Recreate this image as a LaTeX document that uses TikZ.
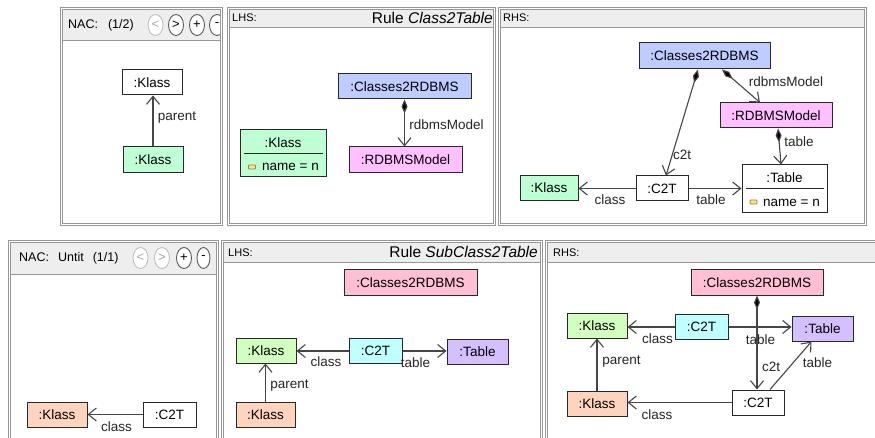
\documentclass[tikz,border=0pt]{standalone}
\usepackage{fontspec}
\setmainfont{Liberation Sans}
\usetikzlibrary{arrows.meta,shapes.geometric,calc}

\definecolor{panelgray}{RGB}{150,150,150}
\definecolor{headfill}{RGB}{238,238,238}
\definecolor{objline}{RGB}{40,40,40}
\definecolor{edgecol}{RGB}{70,70,70}
\definecolor{mint}{RGB}{190,255,212}
\definecolor{skyblue}{RGB}{190,204,255}
\definecolor{orchid}{RGB}{255,192,255}
\definecolor{rose}{RGB}{255,192,214}
\definecolor{leaf}{RGB}{210,255,192}
\definecolor{aqua}{RGB}{192,255,255}
\definecolor{lavender}{RGB}{212,192,255}
\definecolor{peach}{RGB}{255,212,190}
\definecolor{attrfill}{RGB}{245,228,150}
\definecolor{attrline}{RGB}{160,128,50}

\begin{document}
\begin{tikzpicture}[x=1pt,y=-1pt,
  obj/.style={draw=objline, line width=1pt, inner sep=0pt, minimum height=25pt,
    font=\fontsize{13.5}{16}\selectfont},
  txt/.style={inner sep=0pt, font=\fontsize{13.5}{16}\selectfont},
  lbl/.style={inner sep=0pt, font=\fontsize{13.5}{16}\selectfont, text=black!85},
  link/.style={draw=edgecol, line width=1.1pt, -{Straight Barb[length=8pt,width=13pt]}},
  comp/.style={draw=edgecol, line width=1.1pt,
    {Diamond[length=14pt,width=6pt,fill=black]}-{Straight Barb[length=8pt,width=13pt]}},
  sepline/.style={draw=objline, line width=1pt},
  attricon/.style={draw=attrline, fill=attrfill, line width=0.8pt, rounded corners=0.8pt,
    minimum width=7pt, minimum height=4pt, inner sep=0pt},
  panelline/.style={draw=panelgray, line width=1pt},
  hdr/.style={draw=panelgray, fill=headfill, line width=0.9pt},
  hdrsmall/.style={inner sep=0pt, anchor=west, font=\fontsize{11}{13}\selectfont},
  hdrnac/.style={inner sep=0pt, anchor=west, font=\fontsize{12.5}{15}\selectfont},
  hdrrule/.style={inner sep=0pt, anchor=east, font=\fontsize{15.5}{18}\selectfont},
  btnon/.style={ellipse, draw=black!65, fill=white, line width=0.9pt, inner sep=0pt,
    minimum width=15pt, minimum height=21pt, font=\fontsize{13}{15}\selectfont},
  btnoff/.style={btnon, draw=black!25, text=black!35},
]
\useasboundingbox (0,0) rectangle (875,438);
\clip (0,0) rectangle (875,438);
\fill[white] (0,0) rectangle (875,438);

% ---------------- upper row: rule Class2Table ----------------
% NAC panel
\draw[panelline] (60.5,7.5) rectangle (222.5,225.5);
\draw[panelline] (62.5,9.5) rectangle (220.5,223.5);
\draw[hdr] (62.5,9.5) rectangle (220.5,40.5);
\node[hdrnac] (nacA) at (68,25) {NAC:\hspace{10pt}(1/2)};
\begin{scope}
  \clip (62.5,9.5) rectangle (220,40.5);
  \node[btnoff] (bA1) at (155.5,25) {<};
  \node[btnon]  (bA2) at (176,25) {>};
  \node[btnon]  (bA3) at (197,25) {+};
  \node[btnon]  (bA4) at (217,25) {-};
\end{scope}

% LHS panel
\draw[panelline] (227.5,7.5) rectangle (495.5,225.5);
\draw[panelline] (229.5,9.5) rectangle (493.5,223.5);
\draw[hdr] (229.5,9.5) rectangle (493.5,27);
\node[hdrsmall] (lhsA) at (232,18) {LHS:};
\node[hdrrule] (ruleA) at (493,17.5) {Rule \textit{Class2Table}};

% RHS panel
\draw[panelline] (498.5,7.5) rectangle (866.5,225.5);
\draw[panelline] (500.5,9.5) rectangle (864.5,223.5);
\draw[hdr] (500.5,9.5) rectangle (864.5,27);
\node[hdrsmall] (rhsA) at (503,18) {RHS:};

% NAC graph
\node[obj, fill=white, minimum width=60pt] (nk1) at (152,82.5) {:Klass};
\node[obj, fill=mint, minimum width=60pt, minimum height=26pt] (nk2) at (153,160) {:Klass};
\draw[link] (nk2.north) -- (nk2.north |- nk1.south);
\node[lbl] (lp1) at (177,118) {parent};

% LHS graph
\node[obj, fill=skyblue, minimum width=133pt] (lc) at (404.5,86.5) {:Classes2RDBMS};
\node[obj, fill=orchid, minimum width=113pt, minimum height=26pt] (lm) at (405.5,160) {:RDBMSModel};
\draw[comp] (lc.south) -- (lc.south |- lm.north);
\node[lbl] (lp2) at (446.5,125) {rdbmsModel};

\node[obj, fill=mint, minimum width=86pt, minimum height=47pt] (lk) at (283,153.5) {};
\node[txt] (lkt) at (283,143) {:Klass};
\draw[sepline] ([xshift=4pt]lk.west) -- ([xshift=-4pt]lk.east);
\node[attricon] (lki) at (252,167) {};
\node[txt, anchor=west] (lka) at (262,167) {name = n};

% RHS graph
\node[obj, fill=skyblue, minimum width=131pt, minimum height=26pt] (rc) at (704.5,56) {:Classes2RDBMS};
\node[obj, fill=orchid, minimum width=112pt] (rm) at (776,115.5) {:RDBMSModel};
\node[obj, fill=white, minimum width=85pt, minimum height=48pt] (rt) at (784.5,189) {};
\node[txt] (rtt) at (784.5,178) {:Table};
\draw[sepline] ([xshift=4pt]rt.west) -- ([xshift=-4pt]rt.east);
\node[attricon] (rti) at (753.5,202) {};
\node[txt, anchor=west] (rta) at (763,202.5) {name = n};
\node[obj, fill=white, minimum width=52pt] (rct) at (662,188.5) {:C2T};
\node[obj, fill=mint, minimum width=58pt] (rk) at (549,188) {:Klass};

\draw[comp] ([xshift=-6.5pt]rc.south) -- ([xshift=4pt]rct.north);
\node[lbl] (lp3) at (682,155) {c2t};
\draw[comp] ([xshift=17.5pt]rc.south) -- ([xshift=-16pt]rm.north);
\node[lbl] (lp4) at (786,82) {rdbmsModel};
\draw[comp] ([xshift=2pt]rm.south) -- ([xshift=-3.5pt]rt.north);
\node[lbl] (lp5) at (799,142) {table};
\draw[link] (rct.west) -- (rct.west -| rk.east);
\node[lbl] (lp6) at (610,200) {class};
\draw[link] (rct.east) -- (rct.east -| rt.west);
\node[lbl] (lp7) at (711,200) {table};

% ---------------- lower row: rule SubClass2Table ----------------
% NAC panel
\draw[panelline] (8.5,240.5) rectangle (218.5,450);
\draw[panelline] (10.5,242.5) rectangle (216.5,450);
\draw[hdr] (10.5,242.5) rectangle (216.5,274);
\node[hdrnac] (nacB) at (19,258) {NAC:\hspace{9pt}Untit\hspace{9pt}(1/1)};
\node[btnoff] (bB1) at (140.5,258) {<};
\node[btnoff] (bB2) at (162,258) {>};
\node[btnon]  (bB3) at (184,258) {+};
\node[btnon, minimum width=13pt] (bB4) at (203.5,258) {-};

% LHS panel
\draw[panelline] (221.5,240.5) rectangle (542.5,450);
\draw[panelline] (223.5,242.5) rectangle (540.5,450);
\draw[hdr] (223.5,242.5) rectangle (540.5,262);
\node[hdrsmall] (lhsB) at (228,252.5) {LHS:};
\node[hdrrule] (ruleB) at (538,252) {Rule \textit{SubClass2Table}};

% RHS panel
\draw[panelline] (545.5,240.5) rectangle (890,450);
\draw[panelline] (547.5,242.5) rectangle (890,450);
\draw[hdr] (547.5,242.5) rectangle (890,262);
\node[hdrsmall] (rhsB) at (553,252.5) {RHS:};

% NAC graph
\node[obj, fill=peach, minimum width=60pt] (sk) at (57,414.5) {:Klass};
\node[obj, fill=white, minimum width=53pt] (sc) at (169.5,414.5) {:C2T};
\draw[link] (sc.west) -- (sc.west -| sk.east);
\node[lbl] (lq1) at (116.5,427) {class};

% LHS graph
\node[obj, fill=rose, minimum width=133pt] (mc) at (410.5,282.5) {:Classes2RDBMS};
\node[obj, fill=leaf, minimum width=60pt] (mk) at (266,350.5) {:Klass};
\node[obj, fill=aqua, minimum width=53pt] (mt) at (375.5,351) {:C2T};
\node[obj, fill=lavender, minimum width=61pt] (mtb) at (477.5,351.5) {:Table};
\node[obj, fill=peach, minimum width=59pt] (mko) at (265.5,414.5) {:Klass};
\draw[link] (mt.west) -- (mt.west -| mk.east);
\node[lbl] (lq2) at (326,362) {class};
\draw[link] (mt.east) -- (mt.east -| mtb.west);
\node[lbl] (lq3) at (415.5,363) {table};
\draw[link] (mko.north) -- (mko.north |- mk.south);
\node[lbl] (lq4) at (289.5,386) {parent};

% RHS graph
\node[obj, fill=rose, minimum width=132pt] (nc) at (757,282.5) {:Classes2RDBMS};
\node[obj, fill=leaf, minimum width=60pt] (nkg) at (597,325.5) {:Klass};
\node[obj, fill=aqua, minimum width=53pt] (nct) at (701.5,327) {:C2T};
\node[obj, fill=lavender, minimum width=61pt] (ntb) at (822.5,328.5) {:Table};
\node[obj, fill=peach, minimum width=60pt] (nko) at (597,403.5) {:Klass};
\node[obj, fill=white, minimum width=52pt] (nc2) at (758,402.5) {:C2T};

\draw[link] (nct.west) -- (nct.west -| nkg.east);
\node[lbl] (lq5) at (657.5,339) {class};
\draw[link] (nct.east) -- (nct.east -| ntb.west);
\node[lbl] (lq6) at (760.5,340) {table};
\draw[comp] (nc.south) -- (nc.south |- nc2.north);
\node[lbl] (lq7) at (771,367) {c2t};
\draw[link] ([xshift=12pt]nc2.north) -- ([xshift=-11pt]ntb.south);
\node[lbl] (lq8) at (817.5,363) {table};
\draw[link] (nc2.west) -- (nc2.west -| nko.east);
\node[lbl] (lq9) at (657,415) {class};
\draw[link] (nko.north) -- (nko.north |- nkg.south);
\node[lbl] (lq10) at (621.5,362) {parent};
\end{tikzpicture}
\end{document}
